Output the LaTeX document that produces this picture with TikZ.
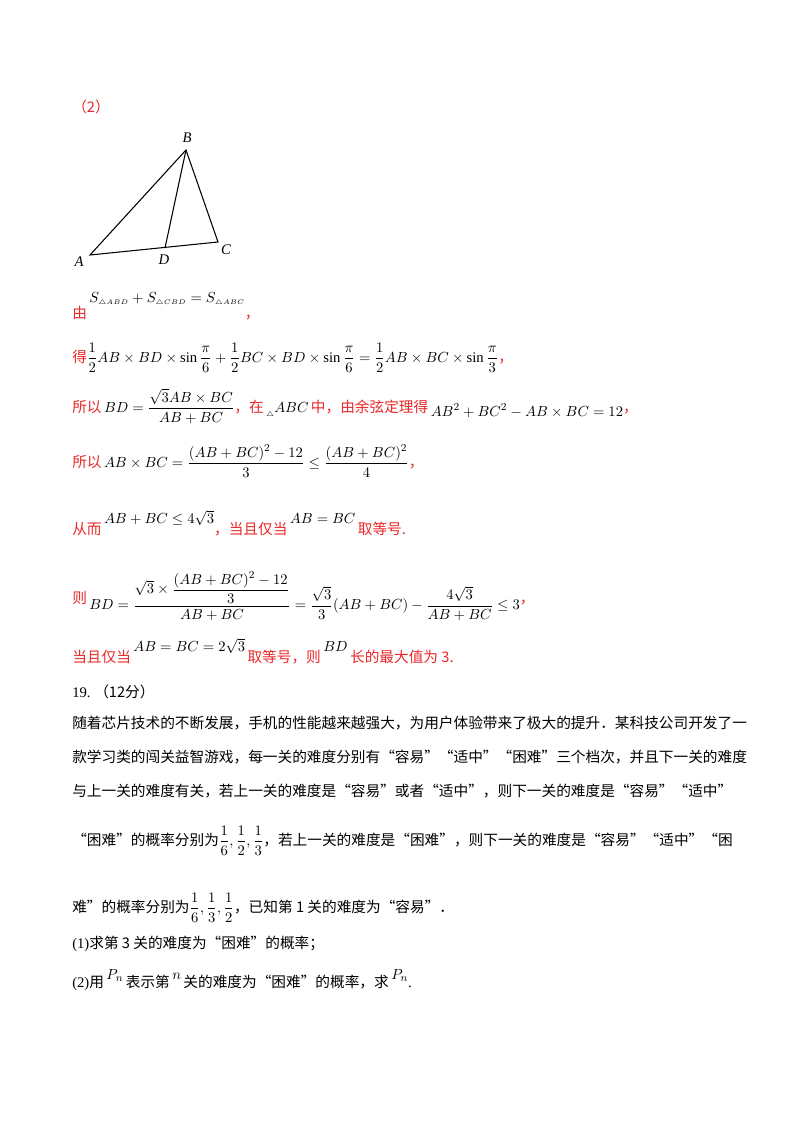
\documentclass[tikz,border=0pt]{standalone}
\usepackage{amsmath,amssymb}
\usepackage{fontspec}
\setmainfont{Liberation Serif}
\newfontfamily\cjk{Noto Sans CJK SC}
\definecolor{myred}{RGB}{235,40,40}
\newcommand{\R}[1]{{\color{myred}\cjk #1}}
\begin{document}
\begin{tikzpicture}[x=0.75pt,y=-0.75pt,
  t/.style={anchor=base west,inner sep=0pt,font=\fontsize{11}{14}\selectfont},
  lab/.style={inner sep=0pt,font=\fontsize{11}{13}\selectfont\itshape}]
\useasboundingbox[fill=white] (0,0) rectangle (800,1132);
% triangle
\coordinate (A) at (90,255);
\coordinate (B) at (186,150);
\coordinate (C) at (218,242);
\coordinate (D) at (165,248);
\draw[line width=0.8pt] (A) -- (B) -- (C) -- cycle;
\draw[line width=0.8pt] (B) -- (D);
\node[lab] (lB) at (187,138) {B};
\node[lab] (lA) at (79,262) {A};
\node[lab] (lD) at (164,260) {D};
\node[lab] (lC) at (226,250) {C};
\node[t] (h2) at (72,112) {\R{（2）}};
% lines
\node[t] (l1) at (72,318) {\R{由}\,\raisebox{12pt}{$S_{\scriptscriptstyle\triangle ABD}+S_{\scriptscriptstyle\triangle CBD}=S_{\scriptscriptstyle\triangle ABC}$}\R{，}};
\node[t] (l2) at (72,362) {\R{得}$\dfrac12 AB\times BD\times\sin\dfrac{\pi}{6}+\dfrac12 BC\times BD\times\sin\dfrac{\pi}{6}=\dfrac12 AB\times BC\times\sin\dfrac{\pi}{3}$\R{，}};
\node[t] (l3) at (72,412) {\R{所以}\,$BD=\dfrac{\sqrt3 AB\times BC}{AB+BC}$\R{，在}\,\raisebox{-3pt}{$\scriptscriptstyle\triangle$}$ABC$\,\R{中，由余弦定理得}\,\raisebox{-3pt}{$AB^2+BC^2-AB\times BC=12$}\R{，}};
\node[t] (l4) at (72,467) {\R{所以}\,$AB\times BC=\dfrac{(AB+BC)^2-12}{3}\le\dfrac{(AB+BC)^2}{4}$\R{，}};
\node[t] (l5) at (72,534) {\R{从而}\,\raisebox{8pt}{$AB+BC\le4\sqrt3$}\R{，当且仅当}\,\raisebox{8pt}{$AB=BC$}\,\R{取等号.}};
\node[t] (l6) at (72,603) {\R{则}\,\raisebox{-5pt}{$BD=\dfrac{\sqrt3\times\dfrac{(AB+BC)^2-12}{3}}{AB+BC}=\dfrac{\sqrt3}{3}(AB+BC)-\dfrac{4\sqrt3}{AB+BC}\le3$}\R{，}};
\node[t] (l7) at (72,662) {\R{当且仅当}\,\raisebox{8pt}{$AB=BC=2\sqrt3$}\,\R{取等号，则}\,\raisebox{8pt}{$BD$}\,\R{长的最大值为 3.}};
\node[t] (q) at (72,697) {19.\ {\cjk （12分）}};
\node[t] (p1) at (72,728) {\cjk 随着芯片技术的不断发展，手机的性能越来越强大，为用户体验带来了极大的提升．某科技公司开发了一};
\node[t] (p2) at (72,762) {\cjk 款学习类的闯关益智游戏，每一关的难度分别有“容易”“适中”“困难”三个档次，并且下一关的难度};
\node[t] (p3) at (72,796) {\cjk 与上一关的难度有关，若上一关的难度是“容易”或者“适中”，则下一关的难度是“容易”“适中”};
\node[t] (p4) at (72,845) {{\cjk “困难”的概率分别为}$\dfrac16,\dfrac12,\dfrac13$\cjk ，若上一关的难度是“困难”，则下一关的难度是“容易”“适中”“困};
\node[t] (p5) at (72,912) {{\cjk 难”的概率分别为}$\dfrac16,\dfrac13,\dfrac12$\cjk ，已知第 1 关的难度为“容易”．};
\node[t] (p6) at (72,948) {(1){\cjk 求第 3 关的难度为“困难”的概率；}};
\node[t] (p7) at (72,987) {(2){\cjk 用}\,\raisebox{6pt}{$P_n$}\,{\cjk 表示第}\,\raisebox{6pt}{$n$}\,{\cjk 关的难度为“困难”的概率，求}\,\raisebox{6pt}{$P_n$}.};
\end{tikzpicture}
\end{document}
